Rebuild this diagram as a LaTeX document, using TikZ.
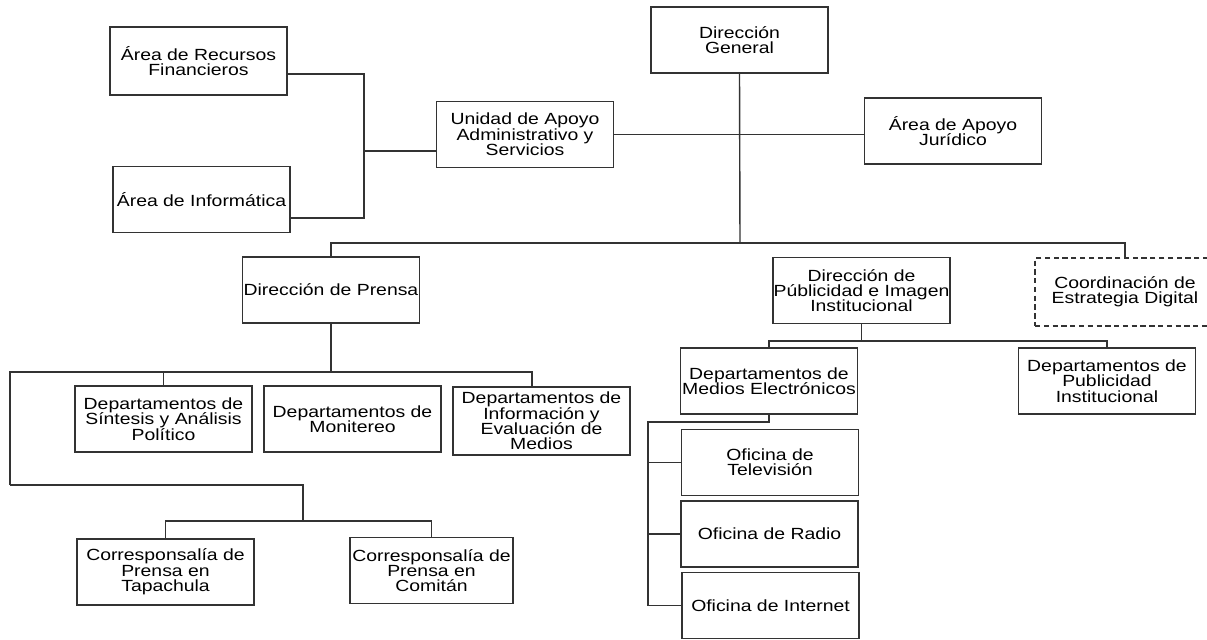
\documentclass[tikz,border=0pt]{standalone}
\usepackage{fontspec}
\setmainfont{Liberation Sans}[FakeStretch=1.2]
\tikzstyle{block} = [draw=black!80, line width=0.8pt, rectangle, inner sep=0pt,
    align=center, minimum height=1.32cm, minimum width=3.54cm,
    font=\fontsize{9.2}{8.7}\selectfont]
\tikzstyle{link} = [draw=black!80, line width=0.8pt]

\begin{document}
\begin{tikzpicture}[x=0.02cm, y=-0.02cm]
\useasboundingbox (0,0) rectangle (1207,639);

\coordinate (bus1) at (364,74);
\coordinate (bus2) at (364,218);
\coordinate (bus3) at (364,151);
\coordinate (dgb) at (740,243);
\coordinate (pl) at (10,372);
\coordinate (pr) at (532,372);
\coordinate (ql) at (10,485);
\coordinate (cb) at (303,521);
\coordinate (pubb) at (862,341);
\coordinate (mb) at (648,422);

\node[block, name=dg] at (739.5,40) {Dirección\\General};
\node[block, name=uas] at (525,134.5) {Unidad de Apoyo\\Administrativo y\\Servicios};
\node[block, name=rf, minimum height=1.36cm] at (198.5,61) {Área de Recursos\\Financieros};
\node[block, name=inf] at (201.5,199.5) {Área de Informática};
\node[block, name=aj] at (953,131) {Área de Apoyo\\Jurídico};

\node[block, name=dp] at (331,290) {Dirección de Prensa};
\node[block, name=dpi] at (861.5,290.5) {Dirección de\\Públicidad e Imagen\\Institucional};
\node[block, name=ced, dash pattern=on 3pt off 2pt, minimum width=3.6cm,
    minimum height=1.36cm] at (1125,292) {Coordinación de\\Estrategia Digital};

\node[block, name=sin] at (163.5,419) {Departamentos de\\Síntesis y Análisis\\Político};
\node[block, name=mon] at (352.5,419) {Departamentos de\\Monitereo};
\node[block, name=inf2, minimum height=1.36cm] at (541.5,421) {Departamentos de\\Información y\\Evaluación de\\Medios};
\node[block, name=tap] at (165.5,572) {Corresponsalía de\\Prensa en\\Tapachula};
\node[block, name=com, minimum width=3.26cm] at (431.5,570.5) {Corresponsalía de\\Prensa en\\Comitán};

\node[block, name=me] at (769,381) {Departamentos de\\Medios Electrónicos};
\node[block, name=pi] at (1107,381) {Departamentos de\\Publicidad\\Institucional};
\node[block, name=tv] at (770,462.5) {Oficina de\\Televisión};
\node[block, name=ra] at (769.5,534) {Oficina de Radio};
\node[block, name=int] at (770.5,605.5) {Oficina de Internet};

% upper part
\draw[link] (rf.east |- bus1) -- (bus1) -- (bus2) -- (inf.east |- bus2);
\draw[link] (bus3) -- (uas.west |- bus3);
\draw[link] (dg.south) -- (dgb);
\draw[link] (uas.east) -- (uas.east -| dg.south);
\draw[link] (dg.south |- uas.east) -- (aj.west |- uas.east);
\draw[link] (dp.north) |- (ced.north |- dgb) -- (ced.north);

% prensa
\draw[link] (dp.south) -- (dp.south |- pl);
\draw[link] (ql) -- (pl) -- (pr) -- (pr |- inf2.north);
\draw[link] (sin.north) -- (sin.north |- pl);
\draw[link] (ql) -| (cb);
\draw[link] (tap.north) |- (cb) -| (com.north);

% publicidad
\draw[link] (dpi.south) -- (dpi.south |- pubb);
\draw[link] (me.north) |- (pubb) -| (pi.north);
\draw[link] (me.south) |- (mb) |- (int.west);
\draw[link] (tv.west) -- (tv.west -| mb);
\draw[link] (ra.west) -- (ra.west -| mb);
\end{tikzpicture}
\end{document}
